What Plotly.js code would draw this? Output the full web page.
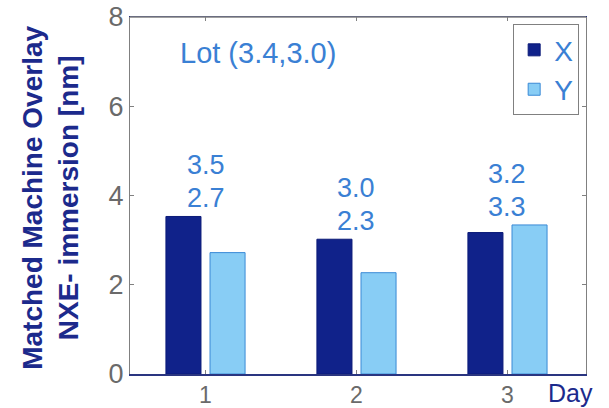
<!DOCTYPE html>
<html>
<head>
<meta charset="utf-8">
<script src="https://cdn.plot.ly/plotly-3.0.1.min.js"></script>
<style>html,body{margin:0;padding:0;background:#fff;}#chart{width:609px;height:408px;}</style>
</head>
<body>
<div id="chart"></div>
<script>
var days = [1, 2, 3];
var tickLabels = ['1', '2', '3'];
var seriesNames = ['X', 'Y'];
var xValues = [3.53, 3.02, 3.17];
var yValues = [2.72, 2.27, 3.34];
var xLabels = ['3.5', '3.0', '3.2'];
var yLabels = ['2.7', '2.3', '3.3'];
var lotText = 'Lot (3.4,3.0)';

var FONT = 'Liberation Sans, Arial, sans-serif';
var NAVY = '#10228a';
var LIGHT = '#88cdf5';
var TXT = '#3a80d4';

var traces = [
  {type: 'bar', name: seriesNames[0], x: days, y: xValues,
   marker: {color: NAVY, line: {color: '#0b1a78', width: 1}}, hoverinfo: 'none'},
  {type: 'bar', name: seriesNames[1], x: days, y: yValues,
   marker: {color: LIGHT, line: {color: '#3a8ad6', width: 1}}, hoverinfo: 'none'}
];

var annotations = [];
days.forEach(function (d, i) {
  var top = Math.max(xValues[i], yValues[i]);
  annotations.push({x: d, y: top, xref: 'x', yref: 'y', text: yLabels[i], showarrow: false,
    xanchor: 'center', yanchor: 'bottom', yshift: 1,
    font: {family: FONT, size: 27, color: TXT}});
  annotations.push({x: d, y: top, xref: 'x', yref: 'y', text: xLabels[i], showarrow: false,
    xanchor: 'center', yanchor: 'bottom', yshift: 34,
    font: {family: FONT, size: 27, color: TXT}});
});
annotations.push({x: 0.28, y: 0.899, xref: 'paper', yref: 'paper', text: lotText,
  showarrow: false, xanchor: 'center', yanchor: 'middle',
  font: {family: FONT, size: 29, color: TXT}});
annotations.push({x: 0.967, y: -0.052, xref: 'paper', yref: 'paper', text: 'Day',
  showarrow: false, xanchor: 'center', yanchor: 'middle', borderpad: 0,
  font: {family: FONT, size: 25, color: '#1c2a8c'}});
annotations.push({x: -0.175, y: 0.494, xref: 'paper', yref: 'paper', textangle: -90,
  text: '<b>Matched Machine Overlay</b><br><b>NXE- immersion [nm]</b>',
  showarrow: false, xanchor: 'center', yanchor: 'middle',
  font: {family: FONT, size: 28, color: '#1c2a8c'}});

var layout = {
  width: 609, height: 408,
  margin: {l: 130, r: 23, t: 17, b: 34},
  paper_bgcolor: '#ffffff', plot_bgcolor: '#ffffff',
  barmode: 'group', bargap: 0.416, bargroupgap: 0.205,
  showlegend: true,
  legend: {x: 0.985, y: 0.98, xanchor: 'right', yanchor: 'top',
    bgcolor: '#ffffff', bordercolor: '#808080', borderwidth: 1,
    font: {family: FONT, size: 28, color: TXT}, itemwidth: 30, tracegroupgap: 0},
  xaxis: {range: [0.5, 3.52], tickvals: days, ticktext: tickLabels,
    ticks: 'inside', ticklen: 4, tickcolor: '#808080', showline: true,
    linecolor: '#2a3580', linewidth: 1.5, mirror: 'ticks', showgrid: false, zeroline: false,
    tickfont: {family: FONT, size: 23, color: '#6a6a6a'}, fixedrange: true},
  yaxis: {range: [0, 8], dtick: 2, ticks: 'inside', ticklen: 4, tickcolor: '#808080',
    showline: true, linecolor: '#808080', linewidth: 1, mirror: 'ticks',
    showgrid: false, zeroline: false,
    tickfont: {family: FONT, size: 27, color: '#6a6a6a'}, fixedrange: true},
  shapes: [{type: 'line', xref: 'paper', yref: 'paper', x0: 0, x1: 1, y0: 1, y1: 1,
    line: {color: '#808080', width: 1.5}}],
  annotations: annotations
};

Plotly.newPlot('chart', traces, layout, {displayModeBar: false, staticPlot: true});
</script>
</body>
</html>
